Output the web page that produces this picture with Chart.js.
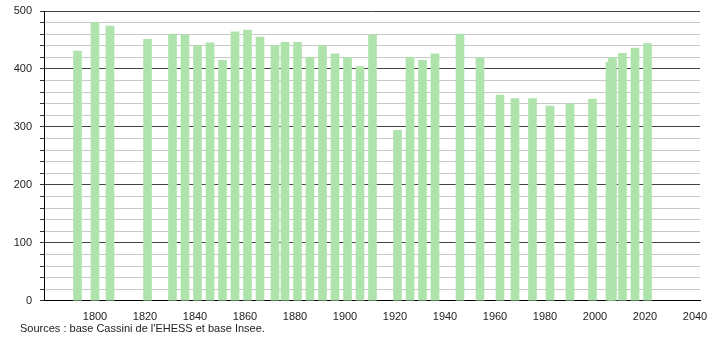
<!DOCTYPE html>
<html>
<head>
<meta charset="utf-8">
<script src="https://cdn.jsdelivr.net/npm/chart.js@4"></script>
<style>
  body { margin: 0; background: #fff; }
  #wrap { position: relative; width: 710px; height: 340px; }
  #source {
    position: absolute; left: 20px; top: 322px;
    font: 11px "Liberation Sans", Arial, sans-serif; color: #222;
  }
</style>
</head>
<body>
<div id="wrap">
  <canvas id="myChart" width="710" height="340"></canvas>
  <div id="source">Sources : base Cassini de l'EHESS et base Insee.</div>
</div>
<script>
"use strict";

const years = [1793, 1800, 1806, 1821, 1831, 1836, 1841, 1846, 1851, 1856,
  1861, 1866, 1872, 1876, 1881, 1886, 1891, 1896, 1901, 1906, 1911,
  1921, 1926, 1931, 1936, 1946, 1954, 1962, 1968, 1975, 1982, 1990,
  1999, 2006, 2007, 2011, 2016, 2021];
const population = [431, 480, 474, 451, 460, 459, 440, 445, 415, 464,
  467, 455, 440, 446, 446, 420, 440, 426, 420, 404, 459,
  294, 420, 415, 426, 460, 420, 355, 349, 349, 336, 340,
  348, 412, 420, 427, 436, 444];
const xTicks = [1800, 1820, 1840, 1860, 1880, 1900, 1920, 1940, 1960, 1980, 2000, 2020, 2040];

const ctx = document.getElementById("myChart");
const points = years.map((y, i) => ({ x: y, y: population[i] }));

Chart.defaults.font.family = "'Liberation Sans', Arial, sans-serif";
Chart.defaults.font.size = 11;
Chart.defaults.color = "#222";

new Chart(ctx, {
  type: "bar",
  data: {
    datasets: [
      {
        data: points,
        backgroundColor: "rgb(174,227,172)",
        barThickness: 8,
      },
    ],
  },
  options: {
    responsive: false,
    animation: false,
    layout: { padding: { top: 11, right: 10, bottom: 14, left: 0 } },
    plugins: { legend: { display: false }, tooltip: { enabled: false } },
    scales: {
      x: {
        type: "linear",
        min: 1779.6,
        max: 2042,
        offset: false,
        grid: { display: false },
        border: { color: "#000", width: 1 },
        afterBuildTicks: (scale) => {
          scale.ticks = xTicks.map((v) => ({ value: v }));
        },
        ticks: {
          padding: 2,
          maxRotation: 0,
          autoSkip: false,
          callback: (v) => String(v),
        },
      },
      y: {
        min: 0,
        max: 500,
        afterFit: (scale) => {
          scale.width = 44;
          scale.paddingTop = 0;
        },
        border: { color: "#000", width: 1 },
        grid: {
          color: (c) => (c.tick.value % 100 === 0 ? "#444" : "#c8c8c8"),
          tickColor: "#333",
          tickLength: 4,
        },
        ticks: {
          stepSize: 20,
          autoSkip: false,
          padding: 8,
          callback: (v) => (v % 100 === 0 ? String(v) : ""),
        },
      },
    },
  },
});
</script>
</body>
</html>
